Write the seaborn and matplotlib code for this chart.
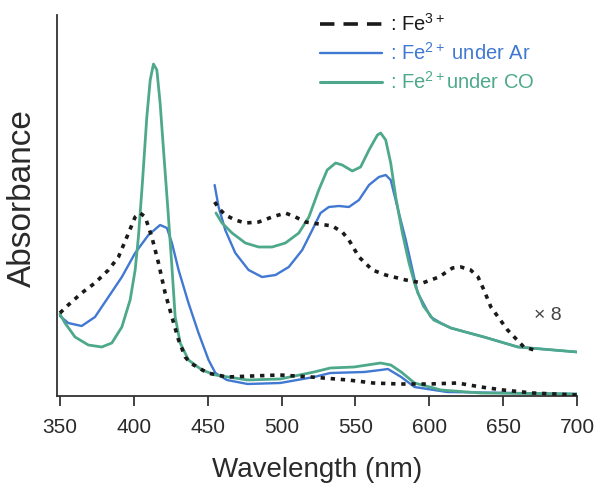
import numpy as np
import pandas as pd
import matplotlib
matplotlib.use("Agg")
import matplotlib.pyplot as plt
from matplotlib.lines import Line2D
import seaborn as sns

# ---- data (absorbance, arbitrary units) ----
fe3_wl = [350, 355.6, 364.7, 373.7, 382.8, 389.6, 395.3, 400.9, 404.3, 407.7, 412.2, 416.7,
          421.2, 425.8, 430.3, 434.8, 438.2, 450, 463, 480, 499, 520, 545, 562, 580, 600,
          619, 635, 650, 670, 700]
fe3_abs = [0.83, 0.91, 1.03, 1.13, 1.26, 1.39, 1.59, 1.79, 1.83, 1.79, 1.59, 1.33,
           1.03, 0.79, 0.56, 0.39, 0.33, 0.23, 0.19, 0.20, 0.21, 0.19, 0.16, 0.13, 0.12, 0.12,
           0.13, 0.09, 0.06, 0.03, 0.01]

ar_wl = [350, 355.6, 364.7, 373.7, 382.8, 391.9, 400.9, 409.9, 417.8, 422.4, 425.8, 430.3,
         437.0, 443.8, 450.6, 455.2, 463, 477, 499, 522, 533, 556, 567, 572, 581, 590, 612,
         657, 700]
ar_abs = [0.80, 0.73, 0.70, 0.79, 0.99, 1.19, 1.43, 1.61, 1.71, 1.68, 1.53, 1.26,
          0.93, 0.63, 0.36, 0.23, 0.16, 0.12, 0.13, 0.19, 0.23, 0.24, 0.26, 0.27, 0.19, 0.09, 0.04,
          0.03, 0.02]

co_wl = [350, 353.4, 360.2, 369.2, 378.3, 385.1, 391.9, 397.5, 400.9, 403.1, 405.8, 408.8,
         411.1, 413.3, 415.6, 417.8, 420.1, 423.1, 425.8, 428.0, 431.4, 437.0, 446.1, 455.2,
         477, 499, 522, 533, 549, 567, 574, 581, 590, 608, 635, 700]
co_abs = [0.82, 0.73, 0.59, 0.51, 0.49, 0.53, 0.69, 0.96, 1.26, 1.59, 2.13, 2.79,
          3.16, 3.32, 3.26, 2.93, 2.46, 1.86, 1.29, 0.79, 0.53, 0.36, 0.26, 0.21,
          0.16, 0.17, 0.24, 0.28, 0.29, 0.33, 0.31, 0.24, 0.13, 0.06, 0.03, 0.02]

# x8 expanded visible-region traces
fe3x8_wl = [454.7, 457.4, 461.9, 468.7, 475.5, 484.5, 493.6, 502.6, 509.4, 516.2, 525.2,
            534.3, 541.1, 545.6, 552.4, 561.5, 570.5, 584.1, 595.4, 606.6, 615.7, 621.4,
            628, 633, 637, 641.7, 653, 664, 671]
fe3x8_abs = [1.94, 1.88, 1.81, 1.76, 1.73, 1.74, 1.79, 1.83, 1.79, 1.74, 1.72,
             1.70, 1.64, 1.56, 1.39, 1.26, 1.21, 1.16, 1.13, 1.19, 1.28, 1.29,
             1.26, 1.19, 1.06, 0.89, 0.66, 0.49, 0.46]

arx8_wl = [454.7, 457.4, 461.9, 468.7, 477.7, 486.8, 495.9, 504.9, 514.0, 520.8, 526.4,
           532.0, 538.8, 545.6, 552.4, 559.2, 565.9, 570.5, 573.9, 578.4, 584.1, 589.7,
           592.2, 601, 607.8, 614.6, 637, 660, 700]
arx8_abs = [2.11, 1.89, 1.66, 1.43, 1.26, 1.19, 1.21, 1.29, 1.46, 1.66, 1.83,
            1.89, 1.90, 1.89, 1.96, 2.11, 2.19, 2.21, 2.16, 1.89, 1.56, 1.19,
            1.03, 0.79, 0.73, 0.68, 0.59, 0.49, 0.44]

cox8_wl = [455.6, 459.7, 466.5, 475.5, 484.5, 493.6, 502.6, 511.7, 518.5, 525.2, 530.9,
           536.6, 541.1, 547.9, 553.5, 559.2, 564.9, 567.1, 570.5, 573.9, 577.3, 581.8,
           586.3, 590.8, 596, 603, 614.6, 637, 660, 700]
cox8_abs = [1.83, 1.73, 1.63, 1.53, 1.49, 1.49, 1.53, 1.63, 1.79, 2.06, 2.26,
            2.33, 2.31, 2.25, 2.29, 2.46, 2.61, 2.63, 2.56, 2.33, 1.99, 1.63,
            1.33, 1.09, 0.90, 0.76, 0.68, 0.59, 0.49, 0.44]

x_ticks = [350, 400, 450, 500, 550, 600, 650, 700]
legend_labels = [": Fe$^{3+}$", ": Fe$^{2+}$ under Ar", ": Fe$^{2+}$under CO"]

# ---- style ----
sns.set_style("ticks")
plt.rcParams["font.family"] = ["Liberation Sans", "DejaVu Sans"]
plt.rcParams["mathtext.fontset"] = "custom"
plt.rcParams["mathtext.rm"] = "Liberation Sans"
plt.rcParams["mathtext.it"] = "Liberation Sans"
plt.rcParams["mathtext.bf"] = "Liberation Sans"

BLACK = "#1a1a1a"
BLUE = "#4078d2"
GREEN = "#4ea98c"
TXT = "#2a2a2a"

fig = plt.figure(figsize=(5.97, 4.84), dpi=100)
ax = fig.add_axes([57 / 597, 88 / 484, 520 / 597, 381 / 484])

def draw(wl, ab, color, lw, ls="-", zorder=2):
    df = pd.DataFrame({"wl": wl, "abs": ab})
    sns.lineplot(data=df, x="wl", y="abs", ax=ax, color=color, lw=lw, linestyle=ls,
                 estimator=None, sort=False, zorder=zorder)

dotted = (0, (1.2, 1.6))
draw(fe3_wl, fe3_abs, BLACK, 2.6, dotted, 3)
draw(ar_wl, ar_abs, BLUE, 1.7)
draw(co_wl, co_abs, GREEN, 2.0)
draw(fe3x8_wl, fe3x8_abs, BLACK, 2.6, dotted, 3)
draw(arx8_wl, arx8_abs, BLUE, 1.7)
draw(cox8_wl, cox8_abs, GREEN, 2.0)

ax.text(680, 0.81, "× 8", ha="center", va="center", fontsize=14, color="#444444")

ax.set_xlim(348, 700)
ax.set_ylim(0, 3.81)
ax.set_xticks(x_ticks)
ax.set_xticklabels([str(t) for t in x_ticks])
ax.set_yticks([])
ax.tick_params(axis="x", direction="out", length=7, width=1.3, color="#333333",
               labelsize=15, labelcolor=TXT, pad=9)
for s in ["top", "right"]:
    ax.spines[s].set_visible(False)
for s in ["left", "bottom"]:
    ax.spines[s].set_linewidth(1.3)
    ax.spines[s].set_color("#333333")

ax.set_xlabel("Wavelength (nm)", fontsize=20, color=TXT, labelpad=14)
ax.set_ylabel("Absorbance", fontsize=24, color=TXT)
ax.yaxis.set_label_coords(-0.036, 0.52)

handles = [Line2D([], [], color=BLACK, lw=2.6, linestyle=(0, (4, 2.5))),
           Line2D([], [], color=BLUE, lw=1.7),
           Line2D([], [], color=GREEN, lw=2.2)]
leg = ax.legend(handles, legend_labels, loc="upper left", bbox_to_anchor=(0.505, 1.005),
                frameon=False, fontsize=14.5, handlelength=3.1, handletextpad=0.4,
                labelspacing=0.35, borderpad=0, borderaxespad=0)
for txt, c in zip(leg.get_texts(), [BLACK, BLUE, GREEN]):
    txt.set_color(c)

fig.savefig("out.png", dpi=100)
